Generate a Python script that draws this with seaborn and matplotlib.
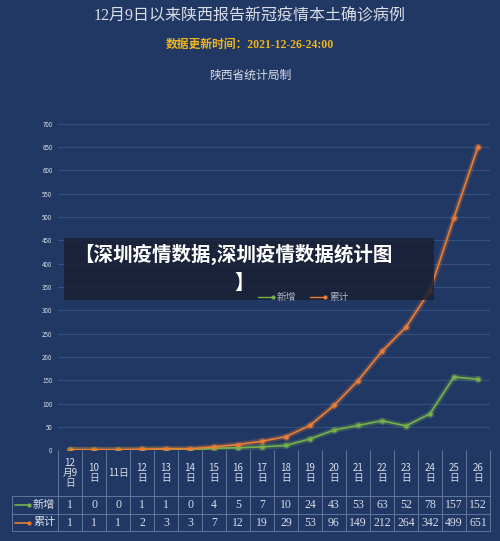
import matplotlib
matplotlib.use("Agg")
import matplotlib.pyplot as plt
import matplotlib.transforms as mtransforms
import pandas as pd
import seaborn as sns

DATES = ["12\n月9\n日", "10\n日", "11日", "12\n日", "13\n日", "14\n日", "15\n日", "16\n日", "17\n日",
         "18\n日", "19\n日", "20\n日", "21\n日", "22\n日", "23\n日", "24\n日", "25\n日", "26\n日"]
NEW_CASES = [1, 0, 0, 1, 1, 0, 4, 5, 7, 10, 24, 43, 53, 63, 52, 78, 157, 152]
TOTAL_CASES = [1, 1, 1, 2, 3, 3, 7, 12, 19, 29, 53, 96, 149, 212, 264, 342, 499, 651]
SERIES = ["新增", "累计"]
COLORS = {"新增": "#78b04a", "累计": "#ee7d32"}

BG = "#213865"
GRID = "#34507e"
TXT = "#d9dde6"

sns.set_theme(style="white")
plt.rcParams["font.family"] = ["Noto Sans CJK SC", "DejaVu Sans"]

df = pd.DataFrame({
    "x": list(range(len(DATES))) * 2,
    "value": NEW_CASES + TOTAL_CASES,
    "series": [SERIES[0]] * len(DATES) + [SERIES[1]] * len(DATES),
})

fig = plt.figure(figsize=(5, 5.41), dpi=100, facecolor=BG)
ax = fig.add_axes([0.116, 0.168, 0.864, 0.603], facecolor=BG)

# soft glow under the lines
for s in SERIES:
    sub = df[df["series"] == s]
    ax.plot(sub["x"], sub["value"], color=COLORS[s], lw=4, alpha=0.25)
    ax.scatter(sub["x"], sub["value"], s=30, color=COLORS[s], alpha=0.3, lw=0)
sns.lineplot(data=df, x="x", y="value", hue="series", palette=COLORS, marker="o",
             markersize=3, markeredgewidth=0, linewidth=1.2, ax=ax, legend=False)

ax.set_xlim(-0.5, len(DATES) - 0.5)
ax.set_ylim(0, 700)
ax.set_yticks(range(0, 701, 50))
ax.tick_params(axis="y", labelsize=4.5, colors=TXT, length=0, pad=4)
ax.set_xticks([])
ax.set_xlabel("")
ax.set_ylabel("")
ax.grid(axis="y", color=GRID, lw=0.8)
for sp in ax.spines.values():
    sp.set_visible(False)

# data table below the axes
tr = mtransforms.blended_transform_factory(ax.transData, fig.transFigure)
line_c = "#6b7fa3"
serif = ["Liberation Serif", "Noto Sans CJK SC"]
y_top, y_mid1, y_mid2, y_bot = 1 - 450 / 541, 1 - 496 / 541, 1 - 514 / 541, 1 - 531 / 541
for i in range(len(DATES) + 1):
    ax.plot([i - 0.5, i - 0.5], [y_bot, y_top], transform=tr, color=line_c, lw=0.6, clip_on=False)
for y in [y_mid1, y_mid2, y_bot]:
    fig.add_artist(plt.Line2D([12 / 500, 0.98], [y, y], color=line_c, lw=0.6))
fig.add_artist(plt.Line2D([12 / 500, 12 / 500], [y_bot, y_mid1], color=line_c, lw=0.6))
for i, d in enumerate(DATES):
    ax.text(i, (y_top + y_mid1) / 2, d, transform=tr, ha="center", va="center",
            fontsize=7, color=TXT, linespacing=0.95)
    ax.text(i, (y_mid1 + y_mid2) / 2, str(NEW_CASES[i]), transform=tr, ha="center", va="center",
            fontsize=8.5, color=TXT, family=serif)
    ax.text(i, (y_mid2 + y_bot) / 2, str(TOTAL_CASES[i]), transform=tr, ha="center", va="center",
            fontsize=8.5, color=TXT, family=serif)
for s, y in zip(SERIES, [(y_mid1 + y_mid2) / 2, (y_mid2 + y_bot) / 2]):
    fig.add_artist(plt.Line2D([15 / 500, 29 / 500], [y, y], color=COLORS[s], lw=1.2,
                              marker="o", markersize=2, markevery=[1]))
    fig.text(33 / 500, y, s, ha="left", va="center", fontsize=8, color=TXT)

# titles
fig.text(0.5, 1 - 16 / 541, "12月9日以来陕西报告新冠疫情本土确诊病例", ha="center", va="center",
         fontsize=11.5, color=TXT, family=serif)
fig.text(0.5, 1 - 45 / 541, "数据更新时间：2021-12-26-24:00", ha="center", va="center",
         fontsize=8.5, color="#f0b51c", fontweight="bold", family=serif)
fig.text(0.5, 1 - 76 / 541, "陕西省统计局制", ha="center", va="center", fontsize=8.5, color=TXT,
         family=serif)

# overlay banner
fig.patches.append(plt.Rectangle((64 / 500, 1 - 300 / 541), 370 / 500, 62 / 541,
                                 transform=fig.transFigure, facecolor="#1a2033", alpha=0.85,
                                 edgecolor="none", zorder=5))
fig.text(74 / 500, 1 - 254 / 541, "【深圳疫情数据,深圳疫情数据统计图", ha="left", va="center",
         fontsize=14, color="white", fontweight="bold", zorder=6)
fig.text(234 / 500, 1 - 283 / 541, "】", ha="left", va="center",
         fontsize=14, color="white", fontweight="bold", zorder=6)
for s, x0 in zip(SERIES, [258, 310]):
    fig.add_artist(plt.Line2D([x0 / 500, (x0 + 15) / 500], [1 - 297 / 541] * 2, color=COLORS[s],
                              lw=1, marker="o", markersize=2, markevery=[1], zorder=6))
    fig.text((x0 + 19) / 500, 1 - 297 / 541, s, ha="left", va="center", fontsize=7,
             color="#a9b3c6", zorder=6)

fig.savefig("out.png", dpi=100, facecolor=BG)
